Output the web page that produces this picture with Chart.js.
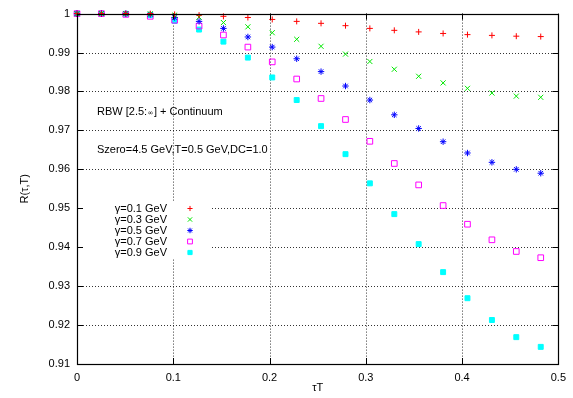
<!DOCTYPE html>
<html>
<head>
<meta charset="utf-8">
<script src="https://cdn.jsdelivr.net/npm/chart.js@4.4.1/dist/chart.umd.min.js"></script>
<style>
  html, body { margin: 0; padding: 0; background: #fff; }
</style>
</head>
<body>
<canvas id="chart" width="573" height="398"></canvas>
<script>
// tau*T sample points
const tauT = [0, 0.0254, 0.0507, 0.0761, 0.1014, 0.1268, 0.1521, 0.1775, 0.2028, 0.2282,
              0.2535, 0.2789, 0.3042, 0.3296, 0.3549, 0.3803, 0.4056, 0.431, 0.4563, 0.4817];

// R(tau,T) for each width gamma
const gamma01 = [1, 1, 1, 1, 0.9998, 0.9996, 0.9993, 0.9990, 0.9985, 0.9980,
                 0.9975, 0.9969, 0.9962, 0.9957, 0.9953, 0.9949, 0.9946, 0.9944, 0.9942, 0.9941];
const gamma03 = [1, 1, 1, 0.99995, 0.9996, 0.9991, 0.9977, 0.9966, 0.9951, 0.9934,
                 0.9916, 0.9896, 0.9877, 0.9857, 0.9839, 0.9822, 0.9808, 0.9796, 0.9788, 0.9785];
const gamma05 = [1, 1, 1, 0.9998, 0.9990, 0.9980, 0.9962, 0.9940, 0.9914, 0.9884,
                 0.9851, 0.9814, 0.9778, 0.9740, 0.9705, 0.9671, 0.9642, 0.9618, 0.9600, 0.9590];
const gamma07 = [1, 1, 0.9998, 0.9993, 0.9983, 0.9968, 0.9945, 0.9914, 0.9876, 0.9832,
                 0.9782, 0.9728, 0.9672, 0.9615, 0.9560, 0.9507, 0.9459, 0.9419, 0.9389, 0.9373];
const gamma09 = [1, 1, 0.99995, 0.9996, 0.9981, 0.9959, 0.9928, 0.9887, 0.9836, 0.9778,
                 0.9711, 0.9639, 0.9564, 0.9485, 0.9408, 0.9336, 0.9269, 0.9213, 0.9169, 0.9144];

const seriesLabels = ['γ=0.1 GeV', 'γ=0.3 GeV', 'γ=0.5 GeV', 'γ=0.7 GeV', 'γ=0.9 GeV'];
const xTicks = [0, 0.1, 0.2, 0.3, 0.4, 0.5];
const yTicks = [0.91, 0.92, 0.93, 0.94, 0.95, 0.96, 0.97, 0.98, 0.99, 1];
const noteLine1 = ['RBW [2.5:', '∞', '] + Continuum'];
const noteLine2 = 'Szero=4.5 GeV,T=0.5 GeV,DC=1.0';

const FAMILY = '"Liberation Sans", Arial, sans-serif';
const FONT = '11px ' + FAMILY;

function points(ys) {
  return ys.map((y, i) => ({ x: tauT[i], y: y }));
}

const styles = [
  { color: '#ff0000', pointStyle: 'cross', radius: 3, fill: false },
  { color: '#00e800', pointStyle: 'crossRot', radius: 3.6, fill: false },
  { color: '#0000ff', pointStyle: 'star', radius: 3.2, fill: false },
  { color: '#ff00ff', pointStyle: 'rect', radius: 4, fill: false },
  { color: '#00ffff', pointStyle: 'rect', radius: 3.5, fill: true }
];

const allSeries = [gamma01, gamma03, gamma05, gamma07, gamma09];

const datasets = allSeries.map((ys, i) => ({
  label: seriesLabels[i],
  data: points(ys),
  showLine: false,
  clip: false,
  pointStyle: styles[i].pointStyle,
  pointRadius: styles[i].radius,
  pointHoverRadius: styles[i].radius,
  pointBorderWidth: 1,
  borderColor: styles[i].color,
  backgroundColor: styles[i].fill ? styles[i].color : 'rgba(0,0,0,0)'
}));

// dotted grid, opaque key box, key entries, notes, frame and inward ticks
const decorations = {
  id: 'decorations',
  beforeDatasetsDraw(chart) {
    const { ctx, chartArea, scales } = chart;
    const { left, right, top, bottom } = chartArea;
    ctx.save();
    ctx.strokeStyle = 'rgba(0,0,0,0.8)';
    ctx.lineWidth = 1;
    ctx.setLineDash([1, 2]);
    ctx.beginPath();
    xTicks.slice(1, -1).forEach(v => {
      const px = Math.round(scales.x.getPixelForValue(v)) + 0.5;
      ctx.moveTo(px, top); ctx.lineTo(px, bottom);
    });
    yTicks.slice(1, -1).forEach(v => {
      const py = Math.round(scales.y.getPixelForValue(v)) + 0.5;
      ctx.moveTo(left, py); ctx.lineTo(right, py);
    });
    ctx.stroke();
    ctx.setLineDash([]);
    ctx.fillStyle = '#fff';
    ctx.fillRect(left + 1, 201, 212 - left - 1, 58);
    ctx.restore();
  },
  afterDatasetsDraw(chart) {
    const { ctx, chartArea } = chart;
    ctx.save();
    ctx.font = FONT;
    ctx.fillStyle = '#000';
    ctx.textBaseline = 'middle';

    // notes
    let x = chartArea.left + 20;
    ctx.textAlign = 'left';
    ctx.fillText(noteLine1[0], x, 111.5);
    x += ctx.measureText(noteLine1[0]).width;
    ctx.font = '7px "DejaVu Sans", sans-serif';
    ctx.fillText(noteLine1[1], x + 0.5, 113);
    x += ctx.measureText(noteLine1[1]).width + 1;
    ctx.font = FONT;
    ctx.fillText(noteLine1[2], x, 111.5);
    ctx.fillText(noteLine2, chartArea.left + 20, 150);

    // key
    ctx.textAlign = 'right';
    chart.data.datasets.forEach((ds, i) => {
      const y = 208.5 + i * 11;
      ctx.fillStyle = '#000';
      ctx.fillText(ds.label, 167, y);
      ctx.strokeStyle = ds.borderColor;
      ctx.fillStyle = ds.backgroundColor;
      ctx.lineWidth = 1;
      Chart.helpers.drawPoint(ctx, {
        pointStyle: ds.pointStyle, radius: ds.pointRadius * 0.85, rotation: 0, borderWidth: 1
      }, 190, y);
    });
    ctx.restore();
  },
  afterDraw(chart) {
    const { ctx, chartArea, scales } = chart;
    const { left, right, top, bottom } = chartArea;
    ctx.save();
    ctx.strokeStyle = '#000';
    ctx.lineWidth = 1;
    ctx.beginPath();
    xTicks.forEach(v => {
      const px = Math.round(scales.x.getPixelForValue(v)) + 0.5;
      ctx.moveTo(px, bottom); ctx.lineTo(px, bottom - 6);
      ctx.moveTo(px, top); ctx.lineTo(px, top + 6);
    });
    yTicks.forEach(v => {
      const py = Math.round(scales.y.getPixelForValue(v)) + 0.5;
      ctx.moveTo(left, py); ctx.lineTo(left + 6, py);
      ctx.moveTo(right, py); ctx.lineTo(right - 6, py);
    });
    ctx.stroke();
    ctx.lineWidth = 1.2;
    ctx.strokeRect(Math.round(left) + 0.5, Math.round(top) + 0.5,
                   Math.round(right - left), Math.round(bottom - top));
    ctx.restore();
  }
};

const tickFont = { family: FAMILY, size: 11 };

new Chart(document.getElementById('chart'), {
  type: 'scatter',
  data: { datasets },
  options: {
    responsive: false,
    animation: false,
    events: [],
    layout: { padding: { top: 13, right: 10, left: 0, bottom: 0 } },
    plugins: {
      legend: { display: false },
      tooltip: { enabled: false }
    },
    scales: {
      x: {
        type: 'linear',
        min: 0,
        max: 0.5,
        grid: { display: false, drawTicks: false },
        border: { display: false },
        afterBuildTicks: s => { s.ticks = xTicks.map(v => ({ value: v })); },
        afterFit: s => { s.height = 34; },
        ticks: { padding: 7, color: '#000', font: tickFont, callback: v => String(v) },
        title: {
          display: true,
          text: 'τT',
          color: '#000',
          font: tickFont,
          padding: { top: 0, bottom: 3 }
        }
      },
      y: {
        type: 'linear',
        min: 0.91,
        max: 1,
        grid: { display: false, drawTicks: false },
        border: { display: false },
        afterBuildTicks: s => { s.ticks = yTicks.map(v => ({ value: v })); },
        afterFit: s => { s.width = 77; },
        ticks: { padding: 7, color: '#000', font: tickFont, callback: v => String(v) },
        title: {
          display: true,
          text: 'R(τ,T)',
          color: '#000',
          font: tickFont,
          padding: { top: 18, bottom: 0 }
        }
      }
    }
  },
  plugins: [decorations]
});
</script>
</body>
</html>
